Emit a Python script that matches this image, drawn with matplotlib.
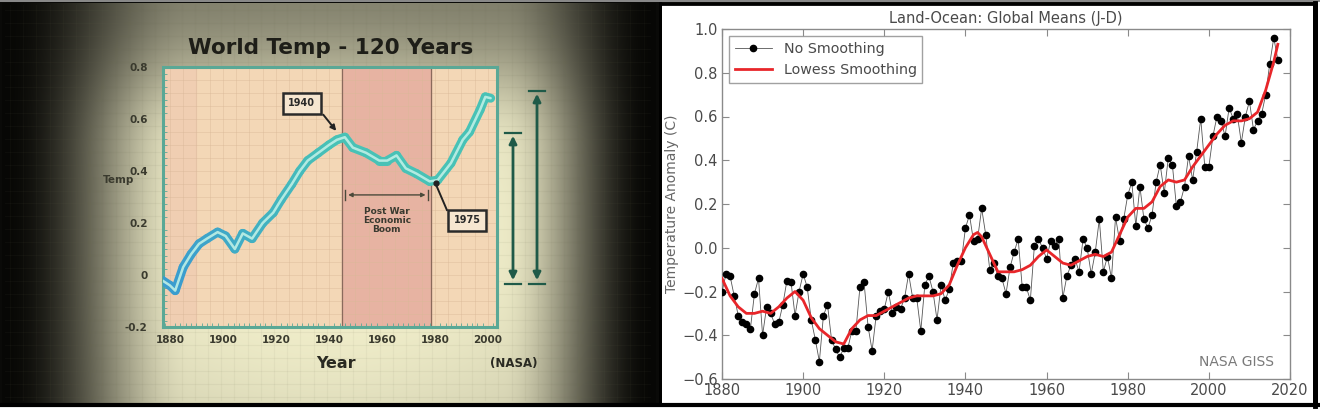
import numpy as np
import matplotlib
matplotlib.use("Agg")
import matplotlib.pyplot as plt
from matplotlib.patches import Rectangle
from matplotlib.collections import LineCollection
from matplotlib.colors import to_rgb

# ---------------- data: left chart (World Temp - 120 Years) ----------------
left_years = [1877, 1880, 1882, 1885, 1888, 1891, 1894, 1898, 1901, 1904.5, 1907.5,
              1911, 1915, 1919, 1922, 1926, 1929, 1932, 1936, 1940, 1943, 1946,
              1949, 1954, 1959, 1962, 1965.5, 1969, 1973, 1978, 1981, 1986, 1990.5,
              1993, 1997, 1999, 2001]
left_temp = [-0.02, -0.04, -0.06, 0.03, 0.08, 0.12, 0.14, 0.165, 0.15, 0.10, 0.16,
             0.14, 0.20, 0.24, 0.29, 0.35, 0.40, 0.44, 0.47, 0.50, 0.52, 0.53,
             0.49, 0.47, 0.44, 0.44, 0.46, 0.41, 0.39, 0.36, 0.365, 0.43, 0.52,
             0.55, 0.635, 0.685, 0.68]
left_xticks = [1880, 1900, 1920, 1940, 1960, 1980, 2000]
left_yticks = [-0.2, 0, 0.2, 0.4, 0.6, 0.8]
left_ylabels = ["-0.2", "0", "0.2", "0.4", "0.6", "0.8"]
boom_start, boom_end = 1945, 1978.5

# ---------------- data: right chart (NASA GISS Land-Ocean) ----------------
giss_years = list(range(1880, 2018))
giss_anom = [
    -0.20, -0.12, -0.13, -0.22, -0.31, -0.34, -0.35, -0.37, -0.21, -0.14,   # 1880s
    -0.40, -0.27, -0.30, -0.35, -0.34, -0.26, -0.15, -0.155, -0.31, -0.20,  # 1890s
    -0.12, -0.18, -0.33, -0.42, -0.52, -0.31, -0.26, -0.42, -0.465, -0.50,  # 1900s
    -0.46, -0.46, -0.38, -0.38, -0.18, -0.155, -0.36, -0.47, -0.31, -0.29, # 1910s
    -0.28, -0.20, -0.30, -0.27, -0.28, -0.23, -0.12, -0.23, -0.23, -0.38,  # 1920s
    -0.17, -0.13, -0.20, -0.33, -0.17, -0.24, -0.19, -0.07, -0.06, -0.06,  # 1930s
    0.09, 0.15, 0.03, 0.04, 0.18, 0.06, -0.10, -0.07, -0.13, -0.14,        # 1940s
    -0.21, -0.09, -0.02, 0.04, -0.18, -0.18, -0.24, 0.01, 0.04, 0.00,      # 1950s
    -0.05, 0.03, 0.01, 0.04, -0.23, -0.13, -0.08, -0.05, -0.11, 0.04,      # 1960s
    0.00, -0.12, -0.02, 0.13, -0.11, -0.04, -0.14, 0.14, 0.03, 0.13,       # 1970s
    0.24, 0.30, 0.10, 0.28, 0.13, 0.09, 0.15, 0.30, 0.38, 0.25,            # 1980s
    0.41, 0.38, 0.19, 0.21, 0.28, 0.42, 0.31, 0.44, 0.59, 0.37,            # 1990s
    0.37, 0.51, 0.60, 0.58, 0.51, 0.64, 0.59, 0.61, 0.48, 0.60,            # 2000s
    0.67, 0.54, 0.58, 0.61, 0.70, 0.84, 0.96, 0.86,                        # 2010s
]
lowess_years = [1880, 1882, 1884, 1886, 1888, 1890, 1892, 1894, 1896, 1898, 1900,
                1902, 1904, 1906, 1908, 1910, 1912, 1914, 1916, 1918, 1920, 1922,
                1924, 1926, 1928, 1930, 1932, 1934, 1936, 1938, 1940, 1942, 1943,
                1944, 1946, 1948, 1950, 1952, 1954, 1956, 1958, 1960, 1962, 1964,
                1966, 1968, 1970, 1972, 1974, 1976, 1978, 1980, 1982, 1984, 1986,
                1988, 1990, 1992, 1994, 1996, 1998, 2000, 2002, 2004, 2006, 2008,
                2010, 2012, 2014, 2016, 2017]
lowess_vals = [-0.14, -0.22, -0.27, -0.30, -0.30, -0.29, -0.30, -0.27, -0.23, -0.20, -0.24,
               -0.32, -0.37, -0.40, -0.43, -0.44, -0.37, -0.33, -0.31, -0.31, -0.29, -0.27,
               -0.25, -0.23, -0.22, -0.22, -0.22, -0.21, -0.17, -0.08, 0.00, 0.06, 0.07,
               0.05, -0.03, -0.11, -0.11, -0.11, -0.10, -0.08, -0.04, -0.01, -0.04, -0.07,
               -0.08, -0.06, -0.04, -0.03, -0.04, -0.02, 0.06, 0.14, 0.18, 0.18, 0.21,
               0.28, 0.31, 0.30, 0.31, 0.37, 0.42, 0.47, 0.52, 0.56, 0.58, 0.58,
               0.59, 0.62, 0.72, 0.85, 0.93]
right_xticks = [1880, 1900, 1920, 1940, 1960, 1980, 2000, 2020]
right_yticks = [-0.6, -0.4, -0.2, 0.0, 0.2, 0.4, 0.6, 0.8, 1.0]

# ---------------- figure ----------------
W, H = 1320, 413
fig = plt.figure(figsize=(13.2, 4.13), dpi=100)
fig.patch.set_facecolor("white")


def rect(x0, y0, x1, y1):
    return [x0 / W, 1 - y1 / H, (x1 - x0) / W, (y1 - y0) / H]


bg = fig.add_axes([0, 0, 1, 1])
bg.set_xlim(0, W)
bg.set_ylim(H, 0)
bg.axis("off")
bg.add_patch(Rectangle((0, 0), 1318, 407, facecolor="#0a0a08", edgecolor="none", zorder=0))
bg.add_patch(Rectangle((0, 0), 1320, 2, facecolor="#888888", edgecolor="none", zorder=0))

# vignette for the photographed chart (styling only)
xs = np.arange(2, 656) + 0.5
ys = np.arange(3, 404) + 0.5
X, Y = np.meshgrid(xs, ys)


def smooth(t):
    t = np.clip(t, 0, 1)
    return t * t * (3 - 2 * t)


bh = smooth((X - 5) / 185) * smooth((652 - X) / 150)
bv = 0.62 + 0.38 * smooth(Y / 150)
corner = 1 - 0.2 * (1 - smooth(1.3 - np.hypot((X - 330) / 360, (Y - 230) / 260)))
b = bh * bv * corner
cream = np.array([0.94, 0.93, 0.79])
dark = np.array([0.03, 0.03, 0.02])
img = dark + (cream - dark) * np.clip(b, 0, 1)[..., None]
bg.imshow(img, extent=(2, 656, 404, 3), aspect="auto", zorder=1, interpolation="bilinear")
# paper grid
for gx in np.arange(10, 650, 13.2):
    bg.plot([gx, gx], [5, 400], color="#6a6a50", alpha=0.06, lw=0.8, zorder=2)
for gy in np.arange(10, 400, 12.9):
    bg.plot([5, 650], [gy, gy], color="#6a6a50", alpha=0.07, lw=0.8, zorder=2)

# right white panel
bg.add_patch(Rectangle((662, 5), 651, 398, facecolor="white", edgecolor="none", zorder=1))

# ---------------- left chart ----------------
ax1 = fig.add_axes(rect(163, 67, 497, 327))
ax1.set_xlim(1877.4, 2003.4)
ax1.set_ylim(-0.2, 0.8)
ax1.set_facecolor("#f3d7b6")
ax1.axvspan(ax1.get_xlim()[0], 1890, color="#efc8b0", alpha=0.6, zorder=0)
ax1.axvspan(boom_start, boom_end, color="#e7b3a2", zorder=0)
ax1.axvline(boom_start, color="#8a6a5c", lw=0.9, zorder=1)
ax1.axvline(boom_end, color="#8a6a5c", lw=0.9, zorder=1)
for gy in np.arange(-0.2, 0.8, 0.05):
    ax1.axhline(gy, color="#d9b898", lw=0.5, alpha=0.6, zorder=0.5)
for gx in np.arange(1880, 2004, 5):
    ax1.axvline(gx, color="#d9b898", lw=0.5, alpha=0.6, zorder=0.5)

pts = np.column_stack([left_years, left_temp])
segs = np.stack([pts[:-1], pts[1:]], axis=1)
c0, c1 = np.array(to_rgb("#3a9ccf")), np.array(to_rgb("#48c2b6"))
frac = np.clip((np.array(left_years[:-1]) - 1880) / 60, 0, 1)[:, None]
cols = c0 + (c1 - c0) * frac
ax1.add_collection(LineCollection(segs, colors=cols, linewidths=6.5, capstyle="round",
                                  joinstyle="round", zorder=3))
ax1.plot(left_years, left_temp, color="#bff0e6", lw=1.8, solid_capstyle="round",
         solid_joinstyle="round", alpha=0.9, zorder=4)
for s in ax1.spines.values():
    s.set_color("#5aa896")
    s.set_linewidth(2.2)
ax1.set_xticks(left_xticks)
ax1.set_yticks(left_yticks)
ax1.set_yticklabels(left_ylabels)
ax1.set_xticks(np.arange(1878, 2004, 2), minor=True)
ax1.set_yticks(np.arange(-0.2, 0.8, 0.025), minor=True)
ax1.tick_params(axis="both", which="major", length=0, labelsize=7.5, colors="#3a3a2e",
                pad=11)
ax1.tick_params(axis="y", which="minor", length=3, direction="in", color="#5aa896", left=True)
ax1.tick_params(axis="x", which="minor", length=3, direction="in", color="#5aa896", bottom=True)
for lab in ax1.get_xticklabels() + ax1.get_yticklabels():
    lab.set_fontweight("bold")
ax1.tick_params(axis="x", pad=6)

# annotations
ax1.annotate("", xy=(1943.4, 0.546), xytext=(1937.2, 0.625),
             arrowprops=dict(arrowstyle="-|>", color="#222222", lw=1.4, mutation_scale=8),
             zorder=6)
ax1.text(1929.8, 0.66, "1940", ha="center", va="center", fontsize=7, fontweight="bold",
         color="#2a2a2a", zorder=7,
         bbox=dict(boxstyle="square,pad=0.6", fc="#f6e6d0", ec="#2a2a2a", lw=1.8))
ax1.plot([1984.5, 1980.2], [0.25, 0.352], color="#222222", lw=1.4, zorder=6)
ax1.plot([1980.2], [0.352], "o", color="#222222", ms=3.5, zorder=6)
ax1.text(1992.1, 0.21, "1975", ha="center", va="center", fontsize=7, fontweight="bold",
         color="#2a2a2a", zorder=7,
         bbox=dict(boxstyle="square,pad=0.6", fc="#f6e6d0", ec="#2a2a2a", lw=1.8))
ax1.annotate("", xy=(1946.2, 0.308), xytext=(1977.5, 0.308),
             arrowprops=dict(arrowstyle="<|-|>", color="#4a4a3a", lw=1.0, mutation_scale=6),
             zorder=6)
ax1.plot([1946.2, 1946.2], [0.29, 0.326], color="#4a4a3a", lw=1.0, zorder=6)
ax1.plot([1977.5, 1977.5], [0.29, 0.326], color="#4a4a3a", lw=1.0, zorder=6)
ax1.text(1961.8, 0.21, "Post War\nEconomic\nBoom", ha="center", va="center", fontsize=6.5,
         fontweight="bold", color="#3a3a30", linespacing=0.95, zorder=6)

# texts around the left chart
bg.text(331, 48, "World Temp - 120 Years", ha="center", va="center", fontsize=15.5,
        fontweight="bold", color="#1e1e18", zorder=5)
bg.text(119, 180, "Temp", ha="center", va="center", fontsize=7.5, fontweight="bold",
        color="#3a3a2e", zorder=5)
bg.text(336, 363, "Year", ha="center", va="center", fontsize=11.5, fontweight="bold",
        color="#2a2a22", zorder=5)
bg.text(514, 363, "(NASA)", ha="center", va="center", fontsize=8.5, fontweight="bold",
        color="#2a2a22", zorder=5)

# right-hand range arrows
for ax_x, top in [(513, 133), (537, 91)]:
    bg.annotate("", xy=(ax_x, top), xytext=(ax_x, 283),
                arrowprops=dict(arrowstyle="<|-|>", color="#1f5a48", lw=2.0,
                                mutation_scale=11), zorder=5)
    bg.plot([ax_x - 8, ax_x + 8], [top, top], color="#1f5a48", lw=1.6, zorder=5)
    bg.plot([ax_x - 8, ax_x + 8], [284, 284], color="#1f5a48", lw=1.6, zorder=5)

# ---------------- right chart ----------------
ax2 = fig.add_axes(rect(722, 29, 1290, 379))
ax2.plot(giss_years, giss_anom, "-o", color="#555555", lw=0.6, ms=4.5,
         markerfacecolor="black", markeredgecolor="black", label="No Smoothing", zorder=3)
ax2.plot(lowess_years, lowess_vals, color="#e8262a", lw=2.0, label="Lowess Smoothing",
         zorder=4)
ax2.set_xlim(1880, 2020)
ax2.set_ylim(-0.6, 1.0)
ax2.set_xticks(right_xticks)
ax2.set_yticks(right_yticks)
ax2.set_yticklabels([f"{v:.1f}".replace("-", "\u2212") for v in right_yticks])
ax2.tick_params(axis="both", direction="in", length=5, top=True, right=True,
                labelsize=10.5, colors="#8a8a8a", labelcolor="#4a4a4a", pad=3)
for s in ax2.spines.values():
    s.set_color("#8a8a8a")
    s.set_linewidth(1.0)
ax2.set_title("Land-Ocean: Global Means (J-D)", fontsize=10.5, color="#4a4a4a", pad=4)
ax2.set_ylabel("Temperature Anomaly (C)", fontsize=10, color="#666666", labelpad=2)
leg = ax2.legend(loc="upper left", fontsize=10.3, frameon=True, fancybox=False,
                 borderaxespad=0.5, handlelength=2.6, labelspacing=0.5)
leg.get_frame().set_edgecolor("#8a8a8a")
for t in leg.get_texts():
    t.set_color("#4a4a4a")
ax2.text(0.905, 0.05, "NASA GISS", transform=ax2.transAxes, ha="center", va="center",
         fontsize=10, color="#7a7a7a")

# panel borders
bg.plot([660, 660], [3, 405], color="black", lw=2.0, zorder=6)
bg.plot([1315, 1315], [3, 406], color="black", lw=3.5, zorder=6)
bg.plot([660, 1316], [4, 4], color="black", lw=2.0, zorder=6)
bg.plot([0, 1318], [405, 405], color="black", lw=3.0, zorder=6)

fig.savefig("out.png", dpi=100, facecolor=fig.get_facecolor())
